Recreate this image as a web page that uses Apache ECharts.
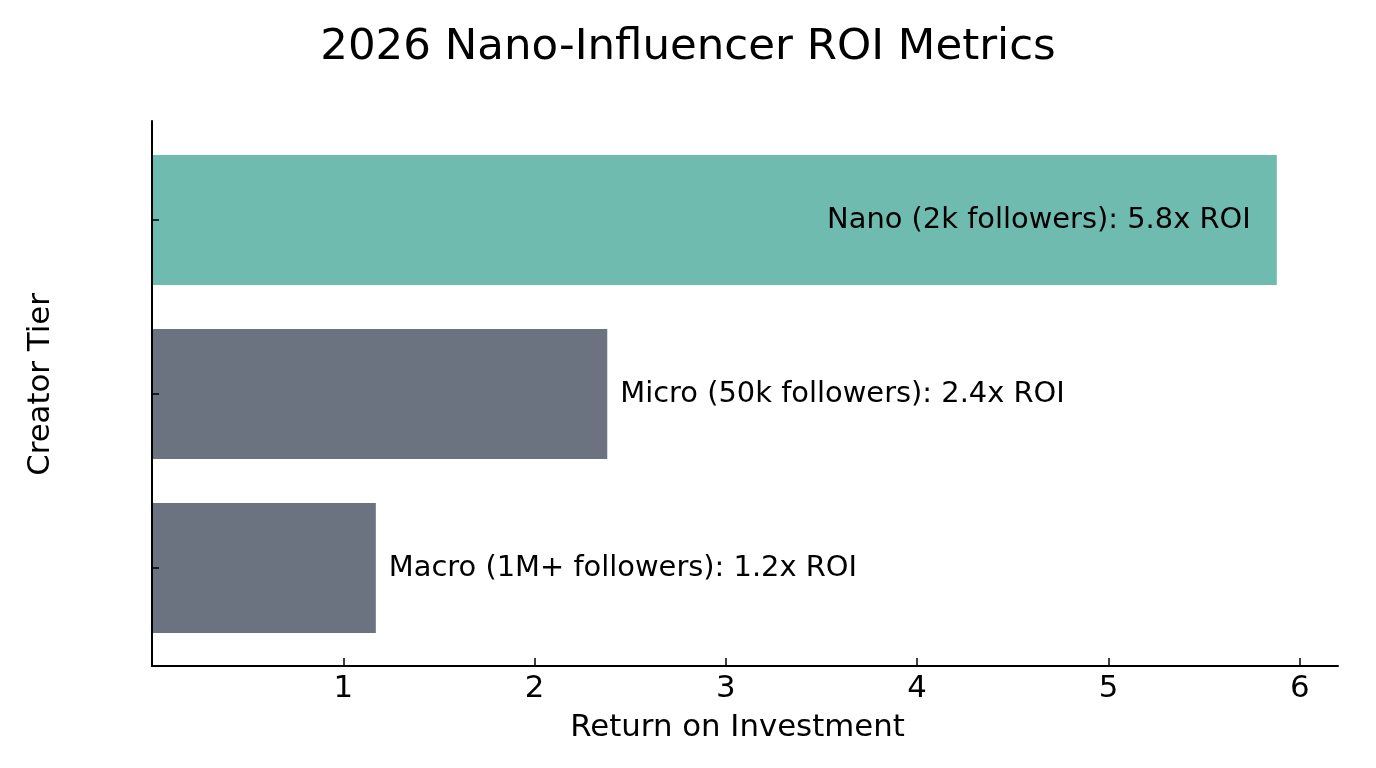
<!DOCTYPE html>
<html>
<head>
<meta charset="utf-8">
<script src="https://cdn.jsdelivr.net/npm/echarts@6/dist/echarts.min.js"></script>
<style>html,body{margin:0;padding:0;background:#fff}#c{width:1376px;height:768px}</style>
</head>
<body>
<div id="c"></div>
<script>
const categories = ['Nano', 'Micro', 'Macro'];
const roiValues = [5.88, 2.38, 1.17];
const barLabels = ['Nano (2k followers): 5.8x ROI', 'Micro (50k followers): 2.4x ROI', 'Macro (1M+ followers): 1.2x ROI'];
const barColors = ['#70BBAF', '#6B7280', '#6B7280'];
const xTicks = [1, 2, 3, 4, 5, 6];

const FONT = 'DejaVu Sans';
const chart = echarts.init(document.getElementById('c'), null, {renderer: 'canvas'});
const option = {
  animation: false,
  backgroundColor: '#fff',
  title: {
    text: '2026 Nano-Influencer ROI Metrics',
    left: 'center',
    top: 21,
    textStyle: {fontFamily: FONT, fontSize: 43.5, fontWeight: 'normal', color: '#000'}
  },
  grid: [
    {left: 152, right: 38, top: 133, height: 522, containLabel: false},
    {left: 152, right: 38, top: 121, height: 545, containLabel: false}
  ],
  xAxis: [
    {gridIndex: 0, type: 'value', min: 0, max: 6.2, show: false},
    {gridIndex: 1, type: 'value', min: 0, max: 6.2, interval: 1, z: 10,
      axisLine: {show: true, lineStyle: {color: '#000', width: 2}},
      axisTick: {show: true, inside: true, length: 8, lineStyle: {color: '#000', width: 1.5}},
      splitLine: {show: false},
      axisLabel: {
        show: true, margin: 7, color: '#000', fontFamily: FONT, fontSize: 30.8,
        showMinLabel: false, showMaxLabel: false,
        formatter: v => (xTicks.indexOf(v) >= 0 ? String(v) : '')
      }
    }
  ],
  yAxis: [
    {gridIndex: 0, type: 'category', data: categories, inverse: true, z: 10,
      axisLine: {show: false},
      axisTick: {show: true, inside: true, alignWithLabel: true, length: 7, lineStyle: {color: '#000', width: 1.5}},
      axisLabel: {show: false},
      splitLine: {show: false}
    },
    {gridIndex: 1, type: 'value', min: 0, max: 1, z: 10,
      axisLine: {show: true, lineStyle: {color: '#000', width: 2}},
      axisTick: {show: false}, axisLabel: {show: false}, splitLine: {show: false}
    }
  ],
  series: [{
    type: 'bar',
    xAxisIndex: 0,
    yAxisIndex: 0,
    z: 2,
    barWidth: 130,
    data: roiValues.map((v, i) => ({
      value: v,
      itemStyle: {color: barColors[i]},
      label: i === 0
        ? {show: true, position: 'insideRight', distance: 26, formatter: barLabels[i]}
        : {show: true, position: 'right', distance: 13, formatter: barLabels[i]}
    })),
    label: {color: '#000', fontFamily: FONT, fontSize: 28.9}
  }],
  graphic: [
    {type: 'text', x: 41, y: 384.5, rotation: Math.PI / 2,
      style: {text: 'Creator Tier', fontFamily: FONT, fontSize: 30.8, fill: '#000', textAlign: 'center', textVerticalAlign: 'middle'}},
    {type: 'text', x: 737.5, y: 728,
      style: {text: 'Return on Investment', fontFamily: FONT, fontSize: 30.8, fill: '#000', textAlign: 'center', textVerticalAlign: 'middle'}}
  ]
};
chart.setOption(option);
</script>
</body>
</html>
